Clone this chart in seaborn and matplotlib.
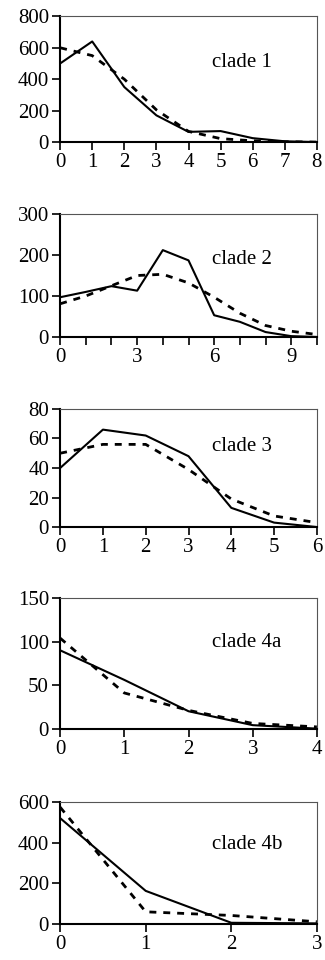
import numpy as np
import pandas as pd
import matplotlib
matplotlib.use('Agg')
import matplotlib.pyplot as plt
import seaborn as sns

x1 = [0, 1, 2, 3, 4, 5, 6, 7, 8]
solid1 = [500, 640, 350, 170, 65, 70, 25, 5, 0]
dash1 = [600, 550, 400, 205, 68, 22, 8, 2, 0]

x2 = [0, 1, 2, 3, 4, 5, 6, 7, 8, 9, 10]
solid2 = [97, 110, 124, 113, 212, 187, 53, 37, 12, 2, 0]
dash2 = [81, 100, 125, 150, 153, 132, 97, 58, 28, 14, 6]

x3 = [0, 1, 2, 3, 4, 5, 6]
solid3 = [40, 66, 62, 48, 13, 3, 0]
dash3 = [50, 56, 56, 39, 19, 7.5, 3]

x4 = [0, 1, 2, 3, 4]
solid4 = [90, 56, 20, 4, 0]
dash4 = [104, 41, 21, 6, 2]

x5 = [0, 1, 2, 3]
solid5 = [521, 163, 6, 3]
dash5 = [575, 60, 42, 11]

labels = ['clade 1', 'clade 2', 'clade 3', 'clade 4a', 'clade 4b']
ymax = [800, 300, 80, 150, 600]
ystep = [200, 100, 20, 50, 200]
xlabel_step = [1, 3, 1, 1, 1]
text_y = [0.63, 0.63, 0.68, 0.66, 0.65]

sns.set_theme(style='ticks')
plt.rcParams['font.family'] = ['Liberation Serif', 'DejaVu Serif']

fig = plt.figure(figsize=(3.25, 9.6), dpi=100)

# [left, bottom, width, height] in figure fraction
boxes = [
    [0.185, 0.852, 0.79, 0.131],
    [0.185, 0.649, 0.79, 0.128],
    [0.185, 0.451, 0.79, 0.123],
    [0.185, 0.241, 0.79, 0.136],
    [0.185, 0.0375, 0.79, 0.127],
]

panels = [(x1, solid1, dash1), (x2, solid2, dash2), (x3, solid3, dash3),
          (x4, solid4, dash4), (x5, solid5, dash5)]

for i, (xs, s, d) in enumerate(panels):
    ax = fig.add_axes(boxes[i])
    df = pd.DataFrame({'x': xs, 'solid': s, 'dash': d})
    sns.lineplot(data=df, x='x', y='solid', ax=ax, color='black', lw=1.5)
    sns.lineplot(data=df, x='x', y='dash', ax=ax, color='black', lw=2.0,
                 linestyle=(0, (2.5, 2.5)))
    xmax = xs[-1]
    ax.set_xlim(0, xmax)
    ax.set_ylim(0, ymax[i])
    ax.set_yticks(np.arange(0, ymax[i] + 1, ystep[i]))
    ax.set_xticks(np.arange(0, xmax + 1, 1))
    ax.set_xticklabels([str(v) if v % xlabel_step[i] == 0 else '' for v in range(0, xmax + 1)])
    ax.set_xlabel('')
    ax.set_ylabel('')
    ax.tick_params(axis='both', labelsize=15, length=6, width=1.2,
                   color='black', labelcolor='black', pad=2, direction='out')
    for side in ['left', 'bottom']:
        ax.spines[side].set_linewidth(1.5)
        ax.spines[side].set_color('black')
    for side in ['top', 'right']:
        ax.spines[side].set_visible(True)
        ax.spines[side].set_linewidth(0.8)
        ax.spines[side].set_color('#555555')
    ax.text(0.59, text_y[i], labels[i], transform=ax.transAxes,
            fontsize=15, va='center', ha='left', color='black')

fig.savefig('out.png', dpi=100, facecolor='white')
